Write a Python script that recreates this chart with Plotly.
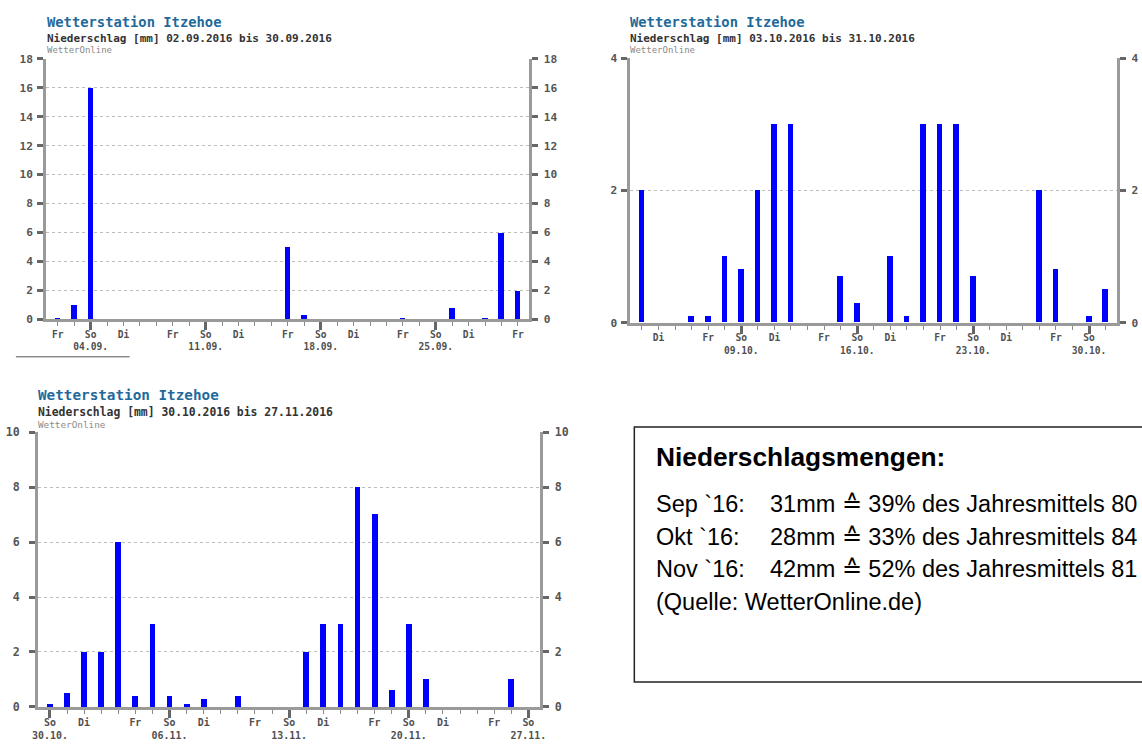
import plotly.graph_objects as go

W, H = 1142, 747

# ---------------- data ----------------
sep_vals = [0.1, 1.0, 16, 0, 0, 0, 0, 0, 0, 0, 0, 0, 0, 0, 5, 0.3, 0, 0, 0, 0, 0,
            0.1, 0, 0, 0.8, 0, 0.1, 6, 2]
sep_tick_idx = [0, 2, 4, 7, 9, 11, 14, 16, 18, 21, 23, 25, 28]
sep_tick_txt = ["Fr", "So<br>04.09.", "Di", "Fr", "So<br>11.09.", "Di", "Fr",
                "So<br>18.09.", "Di", "Fr", "So<br>25.09.", "Di", "Fr"]
sep_sundays = [2, 9, 16, 23]

okt_vals = [2, 0, 0, 0.1, 0.1, 1, 0.8, 2, 3, 3, 0, 0, 0.7, 0.3, 0, 1, 0.1, 3, 3, 3,
            0.7, 0, 0, 0, 2, 0.8, 0, 0.1, 0.5]
okt_tick_idx = [1, 4, 6, 8, 11, 13, 15, 18, 20, 22, 25, 27]
okt_tick_txt = ["Di", "Fr", "So<br>09.10.", "Di", "Fr", "So<br>16.10.", "Di", "Fr",
                "So<br>23.10.", "Di", "Fr", "So<br>30.10."]
okt_sundays = [6, 13, 20, 27]

nov_vals = [0.1, 0.5, 2, 2, 6, 0.4, 3, 0.4, 0.1, 0.3, 0, 0.4, 0, 0, 0, 2, 3, 3, 8, 7,
            0.6, 3, 1, 0, 0, 0, 0, 1, 0]
nov_tick_idx = [0, 2, 5, 7, 9, 12, 14, 16, 19, 21, 23, 26, 28]
nov_tick_txt = ["So<br>30.10.", "Di", "Fr", "So<br>06.11.", "Di", "Fr", "So<br>13.11.",
                "Di", "Fr", "So<br>20.11.", "Di", "Fr", "So<br>27.11."]
nov_sundays = [0, 7, 14, 21, 28]

titles = ["Wetterstation Itzehoe"] * 3
subtitles = ["Niederschlag [mm] 02.09.2016 bis 30.09.2016",
             "Niederschlag [mm] 03.10.2016 bis 31.10.2016",
             "Niederschlag [mm] 30.10.2016 bis 27.11.2016"]
y_max = [18, 4, 10]

box_head = "Niederschlagsmengen:"
box_months = ["Sep `16:", "Okt `16:", "Nov `16:"]
box_texts = ["31mm ≙ 39% des Jahresmittels 80",
             "28mm ≙ 33% des Jahresmittels 84",
             "42mm ≙ 52% des Jahresmittels 81"]
box_source = "(Quelle: WetterOnline.de)"

# ---------------- layout geometry (pixels) ----------------
charts = [
    dict(vals=sep_vals, tidx=sep_tick_idx, ttxt=sep_tick_txt, sun=sep_sundays,
         x0=40.7, x1=529, yt=52.7, yb=318.3, tx=39, ty=15, sc=1.0, so=2),
    dict(vals=okt_vals, tidx=okt_tick_idx, ttxt=okt_tick_txt, sun=okt_sundays,
         x0=631, x1=1123, yt=52.3, yb=321.7, tx=629, ty=15, sc=1.0, so=2),
    dict(vals=nov_vals, tidx=nov_tick_idx, ttxt=nov_tick_txt, sun=nov_sundays,
         x0=32.3, x1=540, yt=433.3, yb=713.3, tx=30.5, ty=395, sc=1.037, so=7),
]

def px(x):
    return x / W

def py(y):
    return 1 - y / H

MONO = "DejaVu Sans Mono"
fig = go.Figure()
layout = dict(width=W, height=H, margin=dict(l=0, r=0, t=0, b=0),
              paper_bgcolor="white", plot_bgcolor="white", showlegend=False,
              bargap=0)
annotations = []
shapes = []
GRID_DASH = "3px,3px"

for i, c in enumerate(charts):
    n = i + 1
    o = i + 4
    days = list(range(len(c["vals"])))
    xs = "" if n == 1 else str(n)
    os_ = str(o)
    fig.add_trace(go.Bar(x=days, y=c["vals"], width=0.34,
                         marker=dict(color="#0000ff", line=dict(width=0)),
                         xaxis="x" + xs, yaxis="y" + xs, hoverinfo="skip"))
    fig.add_trace(go.Scatter(x=[None], y=[None], mode="markers",
                             xaxis="x" + os_, yaxis="y" + os_, hoverinfo="skip"))
    xr = [-0.7, len(days) - 1 + 0.7]
    yr = [0, y_max[i]]
    xdom = [px(c["x0"]), px(c["x1"])]
    ydom = [py(c["yb"]), py(c["yt"])]
    s = c["sc"]
    layout["xaxis" + xs] = dict(
        domain=xdom, range=xr, anchor="y" + xs, showgrid=False, zeroline=False,
        showline=True, linewidth=3, linecolor="#9a9a9a",
        tickmode="array", tickvals=c["sun"], ticks="outside", ticklen=8,
        tickwidth=3, tickcolor="#666666", showticklabels=False,
        minor=dict(tickmode="array", tickvals=days, ticks="outside", ticklen=4,
                   tickwidth=1, tickcolor="#8a8a8a", showgrid=False))
    layout["yaxis" + xs] = dict(
        domain=ydom, range=yr, anchor="x" + xs, dtick=2, tick0=0,
        showgrid=True, gridcolor="#bdbdbd", griddash=GRID_DASH, gridwidth=1,
        zeroline=False, showline=True, linewidth=3, linecolor="#9a9a9a",
        ticks="outside", ticklen=6, tickwidth=3, tickcolor="#666666",
        tickfont=dict(family=MONO, size=11.2 * s, color="#555555", weight="bold"),
        ticklabelstandoff=c["so"])
    layout["xaxis" + os_] = dict(
        overlaying="x" + xs, range=xr, anchor="y" + xs, side="bottom",
        showgrid=False, zeroline=False, showline=False,
        tickmode="array", tickvals=c["tidx"], ticktext=c["ttxt"], ticks="",
        tickfont=dict(family=MONO, size=9.6 * s, color="#505050", weight="bold"),
        ticklabelstandoff=8)
    layout["yaxis" + os_] = dict(
        overlaying="y" + xs, range=yr, anchor="x" + xs, side="right", dtick=2,
        tick0=0, showgrid=False, zeroline=False, showline=True, linewidth=3,
        linecolor="#9a9a9a", ticks="outside", ticklen=6, tickwidth=3,
        tickcolor="#666666",
        tickfont=dict(family=MONO, size=11.2 * s, color="#555555", weight="bold"),
        ticklabelstandoff=3)
    # titles
    annotations += [
        dict(text=titles[i], x=px(c["tx"]), y=py(c["ty"]), xref="paper", yref="paper",
             xanchor="left", yanchor="middle", showarrow=False,
             font=dict(family=MONO, size=13.8 * s, color="#1f6a9a", weight="bold")),
        dict(text=subtitles[i], x=px(c["tx"]), y=py(c["ty"] + 17 * s), xref="paper",
             yref="paper", xanchor="left", yanchor="middle", showarrow=False,
             font=dict(family=MONO, size=11 * s, color="#333333", weight="bold")),
        dict(text="WetterOnline", x=px(c["tx"]), y=py(c["ty"] + 29 * s), xref="paper",
             yref="paper", xanchor="left", yanchor="middle", showarrow=False,
             font=dict(family=MONO, size=9 * s, color="#8a8a8a")),
    ]

# footnote separator line under first chart
shapes.append(dict(type="line", xref="paper", yref="paper", x0=px(10), x1=px(125),
                   y0=py(356.5), y1=py(356.5), line=dict(color="#555555", width=1)))

# text box
shapes.append(dict(type="rect", xref="paper", yref="paper", x0=px(635), x1=px(1160),
                   y0=py(688), y1=py(428), line=dict(color="#222222", width=1.5),
                   fillcolor="rgba(0,0,0,0)"))
SANS = "Liberation Sans, Arial, sans-serif"
annotations.append(dict(text="<b>" + box_head + "</b>", x=px(655), y=py(459),
                        xref="paper", yref="paper", xanchor="left", yanchor="middle",
                        showarrow=False, font=dict(family=SANS, size=26.3, color="#000000")))
for k, (m, t) in enumerate(zip(box_months, box_texts)):
    yy = 506.5 + k * 33.3
    annotations.append(dict(text=m, x=px(655), y=py(yy), xref="paper", yref="paper",
                            xanchor="left", yanchor="middle", showarrow=False,
                            font=dict(family=SANS, size=23.5, color="#000000")))
    annotations.append(dict(text=t, x=px(770), y=py(yy), xref="paper", yref="paper",
                            xanchor="left", yanchor="middle", showarrow=False,
                            font=dict(family=SANS, size=23.5, color="#000000")))
annotations.append(dict(text=box_source, x=px(655), y=py(606.5), xref="paper", yref="paper",
                        xanchor="left", yanchor="middle", showarrow=False,
                        font=dict(family=SANS, size=23.5, color="#000000")))

layout["annotations"] = annotations
layout["shapes"] = shapes
fig.update_layout(**layout)
fig.write_html("out.html", config={"displayModeBar": False},
               post_script="document.body.style.margin='0';")
